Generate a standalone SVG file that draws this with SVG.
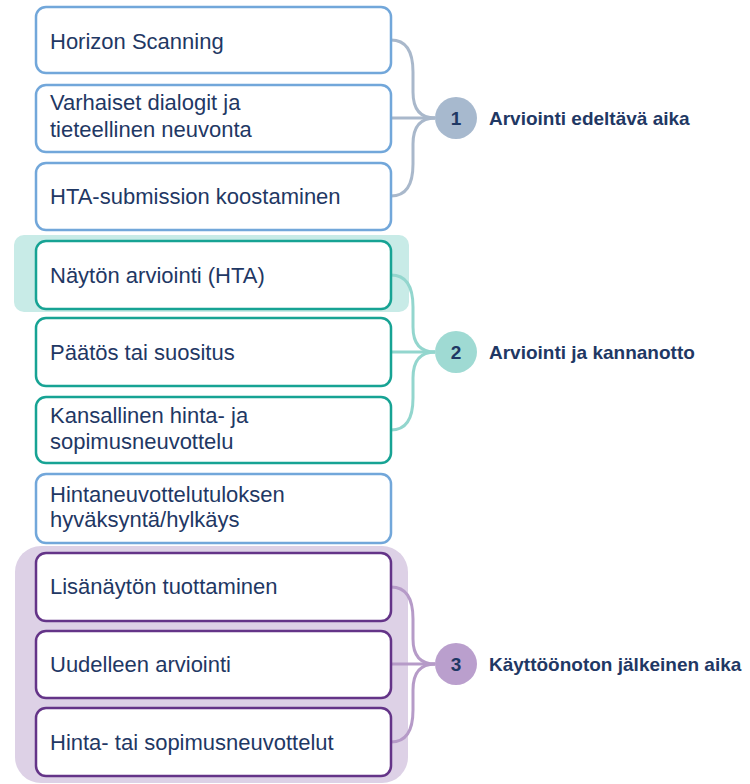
<svg xmlns="http://www.w3.org/2000/svg" width="750" height="784" viewBox="0 0 750 784">
<style>
.box{fill:#fff;stroke-width:2.5}
.b1{stroke:#72A7DA}
.b2{stroke:#17A394}
.b3{stroke:#643488}
.t{font-family:"Liberation Sans",Arial,sans-serif;font-size:22px;fill:#1F3864}
.lab{font-family:"Liberation Sans",Arial,sans-serif;font-size:19px;font-weight:bold;fill:#1F3864}
.num{font-family:"Liberation Sans",Arial,sans-serif;font-size:19px;font-weight:bold;fill:#1F3864;text-anchor:middle}
.c{fill:none;stroke-width:3}
.c1{stroke:#A9B8CB}
.c2{stroke:#93D6CE}
.c3{stroke:#B69BC8}
</style>
<rect width="750" height="784" fill="#fff"/>
<g id="bg2"><rect x="14" y="235" width="395" height="77" rx="10" fill="#C8EBE7"/></g>
<g id="bg3"><rect x="15" y="546" width="393" height="237" rx="26" fill="#DDD1E6"/></g>
<g id="connectors">
<path class="c c1" d="M391,40 C407,40 413,52 413,72 L413,92 C413,110 421,118 435,118"/>
<path class="c c1" d="M391,118 L435,118"/>
<path class="c c1" d="M391,196 C407,196 413,184 413,164 L413,144 C413,126 421,118 435,118"/>
<path class="c c2" d="M391,275 C407,275 413,287 413,307 L413,327 C413,345 421,352 435,352"/>
<path class="c c2" d="M391,352 L435,352"/>
<path class="c c2" d="M391,430 C407,430 413,418 413,398 L413,378 C413,360 421,352 435,352"/>
<path class="c c3" d="M391,587 C407,587 413,599 413,619 L413,639 C413,657 421,664 435,664"/>
<path class="c c3" d="M391,664 L435,664"/>
<path class="c c3" d="M391,742 C407,742 413,730 413,710 L413,690 C413,672 421,664 435,664"/>
</g>
<g id="n1"><rect class="box b1" x="36" y="7" width="355" height="66" rx="10"/><text class="t" x="50" y="49">Horizon Scanning</text></g>
<g id="n2"><rect class="box b1" x="36" y="85" width="355" height="67" rx="10"/><text class="t" x="50" y="110">Varhaiset dialogit ja</text><text class="t" x="50" y="137">tieteellinen neuvonta</text></g>
<g id="n3"><rect class="box b1" x="36" y="163" width="355" height="67" rx="10"/><text class="t" x="50" y="204">HTA-submission koostaminen</text></g>
<g id="n4"><rect class="box b2" x="36" y="241" width="355" height="68" rx="10"/><text class="t" x="50" y="283">Näytön arviointi (HTA)</text></g>
<g id="n5"><rect class="box b2" x="36" y="318" width="355" height="68" rx="10"/><text class="t" x="50" y="360">Päätös tai suositus</text></g>
<g id="n6"><rect class="box b2" x="36" y="397" width="355" height="66" rx="10"/><text class="t" x="50" y="423">Kansallinen hinta- ja</text><text class="t" x="50" y="449">sopimusneuvottelu</text></g>
<g id="n7"><rect class="box b1" x="36" y="474" width="355" height="69" rx="10"/><text class="t" x="50" y="502">Hintaneuvottelutuloksen</text><text class="t" x="50" y="527">hyväksyntä/hylkäys</text></g>
<g id="n8"><rect class="box b3" x="36" y="553" width="355" height="68" rx="10"/><text class="t" x="50" y="594">Lisänäytön tuottaminen</text></g>
<g id="n9"><rect class="box b3" x="36" y="631" width="355" height="67" rx="10"/><text class="t" x="50" y="672">Uudelleen arviointi</text></g>
<g id="n10"><rect class="box b3" x="36" y="708" width="355" height="68" rx="10"/><text class="t" x="50" y="750">Hinta- tai sopimusneuvottelut</text></g>
<g id="p1"><circle cx="456" cy="118" r="21" fill="#A7B9CE"/><text class="num" x="456" y="125">1</text><text class="lab" x="489" y="125">Arviointi edeltävä aika</text></g>
<g id="p2"><circle cx="456" cy="352" r="21" fill="#9FDAD3"/><text class="num" x="456" y="359">2</text><text class="lab" x="489" y="359">Arviointi ja kannanotto</text></g>
<g id="p3"><circle cx="456" cy="664" r="21" fill="#BA9FCD"/><text class="num" x="456" y="671">3</text><text class="lab" x="489" y="671">Käyttöönoton jälkeinen aika</text></g>
</svg>
